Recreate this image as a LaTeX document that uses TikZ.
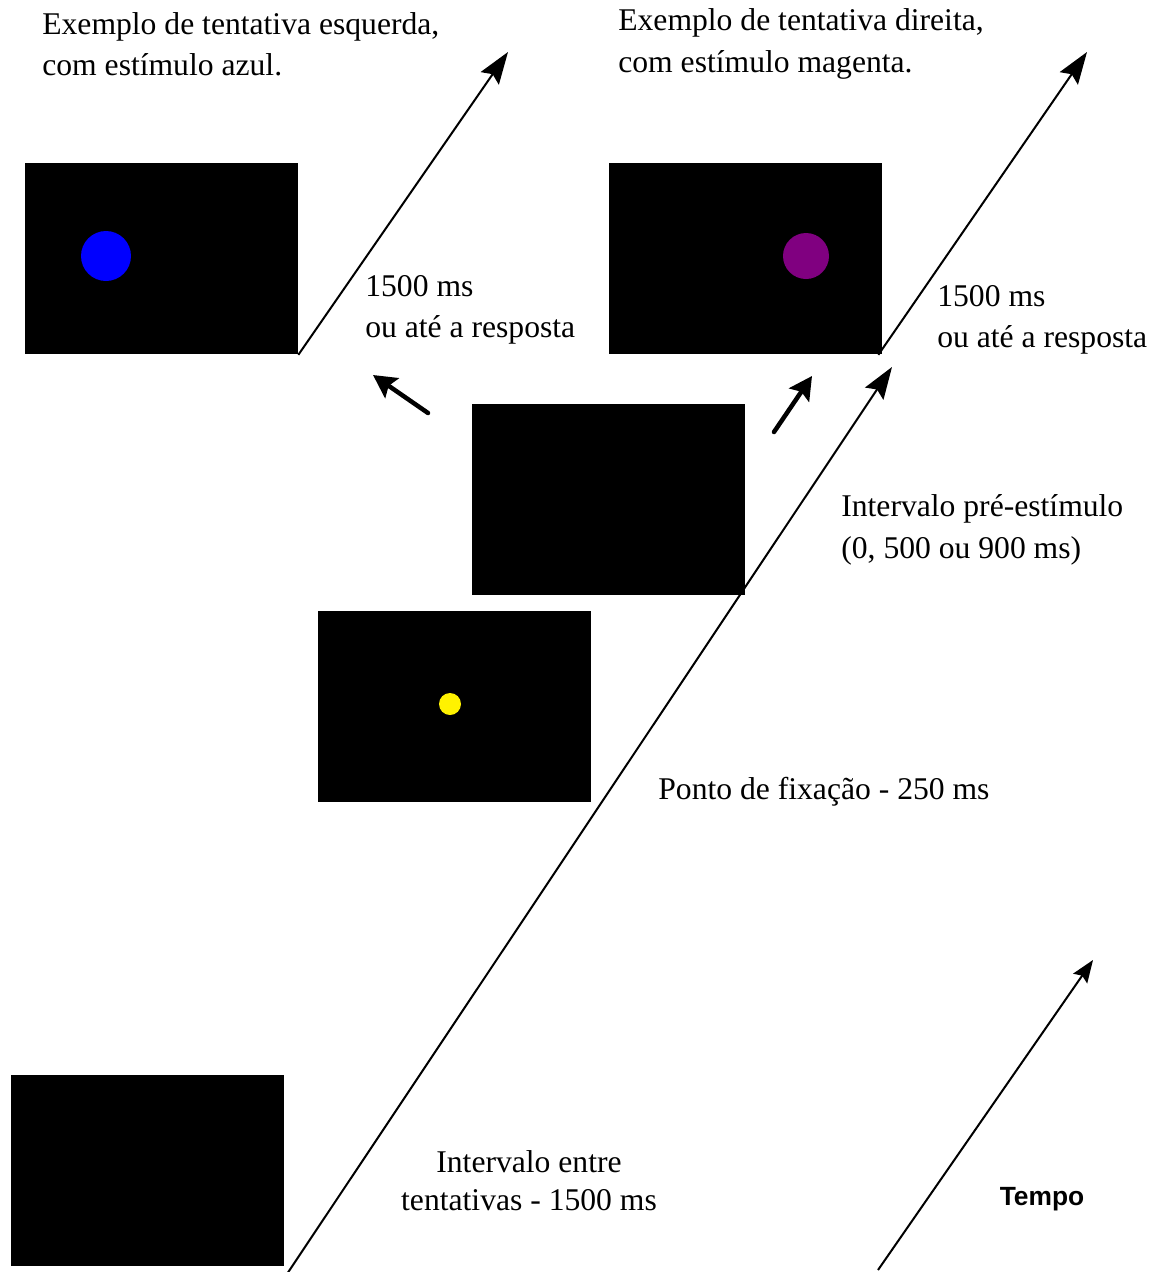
\documentclass[tikz,border=0pt]{standalone}
\usepackage{fontspec}
\setmainfont{Liberation Serif}
\setsansfont{Liberation Sans}
\usetikzlibrary{arrows.meta}

\begin{document}
\begin{tikzpicture}[x=0.02cm,y=-0.02cm,
  tela/.style={fill=black,inner sep=0,minimum width=5.46cm,minimum height=3.84cm},
  bola/.style={circle,inner sep=0,minimum size=#1},
  legenda/.style={inner sep=0,font=\fontsize{18}{23.5}\selectfont,align=left},
  seta/.style={-{Stealth[length=0.64cm,width=0.44cm,inset=0.1cm]},line width=0.04cm},
  setinha/.style={-{Stealth[length=0.46cm,width=0.48cm,inset=0.08cm]},line width=0.09cm,line cap=round}]
\useasboundingbox (0,0) rectangle (1158,1272);

% telas
\node[tela] (esq) at (161.5,258.5) {};
\node[tela] (dir) at (745.5,258.5) {};
\node[tela] (pre) at (608.5,499.5) {};
\node[tela] (fix) at (454.5,706.5) {};
\node[tela] (iti) at (147.5,1170.5) {};

% estimulos
\node[bola=1cm,fill=blue] (azul) at (106,256) {};
\node[bola=0.92cm,fill={rgb,255:red,128;green,0;blue,128}] (mag) at (806,256) {};
\node[bola=0.44cm,fill=yellow] (ponto) at (450,704) {};

% setas
\coordinate (esqfim) at (508,52);
\coordinate (dirfim) at (1087,52);
\coordinate (ini) at (287,1274);
\coordinate (fim) at (892,367);
\coordinate (tini) at (878,1270);
\coordinate (tfim) at (1093,960);
\coordinate (a1) at (428,413);
\coordinate (b1) at (373,375);
\coordinate (a2) at (774,432);
\coordinate (b2) at (812,376);
\draw[seta] (esq.south east) -- (esqfim);
\draw[seta] (dir.south east) ++(-4,0) -- (dirfim);
\draw[seta] (ini) -- (fim);
\draw[-{Stealth[length=0.45cm,width=0.34cm,inset=0.07cm]},line width=0.04cm] (tini) -- (tfim);
\draw[setinha] (a1) -- (b1);
\draw[setinha] (a2) -- (b2);

% textos
\node[legenda,anchor=west] (t1) at (42,44) {Exemplo de tentativa esquerda,\\com estímulo azul.};
\node[legenda,anchor=west] (t2) at (618,44) {Exemplo de tentativa direita,\\com estímulo magenta.};
\node[legenda,anchor=west] (t3) at (365,310) {1500 ms\\ou até a resposta};
\node[legenda,anchor=west] (t4) at (937,320) {1500 ms\\ou até a resposta};
\node[legenda,anchor=west] (t5) at (841,530) {Intervalo pré-estímulo\\(0, 500 ou 900 ms)};
\node[legenda,anchor=west] (t6) at (658,792) {Ponto de fixação - 250 ms};
\node[legenda,align=center,font=\fontsize{18}{21.5}\selectfont] (t7) at (529,1181) {Intervalo entre\\tentativas - 1500 ms};
\node[inner sep=0,font=\sffamily\bfseries\fontsize{15}{18}\selectfont] (tempo) at (1042,1199) {Tempo};
\end{tikzpicture}
\end{document}
